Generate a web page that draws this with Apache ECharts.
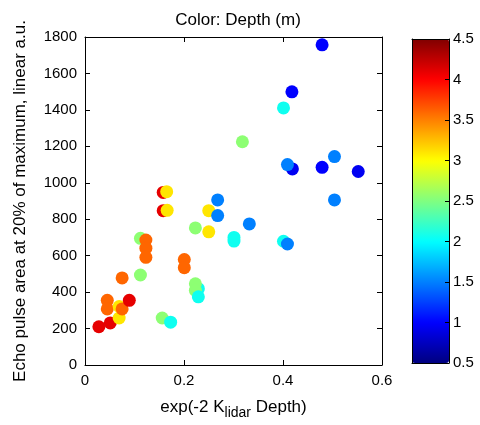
<!DOCTYPE html>
<html><head><meta charset="utf-8">
<script src="https://cdn.jsdelivr.net/npm/echarts@6/dist/echarts.min.js"></script>
<style>html,body{margin:0;padding:0;background:#fff}#c{width:480px;height:425px}</style>
</head><body><div id="c"></div>
<script>
// Data
const xVals = [0.028,0.051,0.069,0.045,0.045,0.069,0.075,0.0895,0.075,0.112,0.112,0.123,0.123,0.123,0.158,0.165,0.158,0.166,0.156,0.173,0.2006,0.2006,0.223,0.229,0.223,0.223,0.229,0.25,0.25,0.268,0.268,0.318,0.301,0.301,0.332,0.401,0.409,0.419,0.409,0.479,0.504,0.552,0.504,0.479,0.418,0.401];
const yVals = [210,231,258,355,308,321,308,355,478,494,695,686,641,591,947,951,847,849,258,235,579,534,752,419,446,410,374,847,731,906,820,1225,700,680,774,679,664,1076,1100,1085,1144,1062,906,1757,1499,1411];
const depths = [4.1,4.1,3.1,3.6,3.6,3.1,3.6,4.1,3.6,2.55,2.55,3.6,3.6,3.6,4.1,3.1,4.1,3.1,2.55,2.06,3.6,3.6,2.55,2.06,2.55,2.55,2.06,3.1,3.1,1.5,1.5,2.55,2.06,2.06,1.5,2.06,1.5,0.95,1.5,1.0,1.5,0.95,1.5,1.0,1.0,2.06];
const xTicks = [0,0.6,0.2];
const yTicks = [0,1800,200];
const cTicks = [0.5,4.5,0.5];
const jet = ['#000080','#0000ff','#0080ff','#00ffff','#80ff80','#ffff00','#ff8000','#ff0000','#800000'];

const pts = xVals.map((x,i)=>[x,yVals[i],depths[i]]);
const F = 'Liberation Sans, Arial, sans-serif';
const black = '#000';
const plain = v => String(v);
function ax(extra){
  return Object.assign({
    axisLine:{show:true,onZero:false,lineStyle:{color:black,width:1}},
    axisTick:{show:true,inside:true,length:5,lineStyle:{color:black}},
    splitLine:{show:false},
    axisLabel:{color:black,fontFamily:F,fontSize:15,formatter:plain},
    z:10
  },extra);
}
const chart = echarts.init(document.getElementById('c'),null,{renderer:'canvas'});
chart.setOption({
  animation:false,
  backgroundColor:'#fff',
  title:{text:'Color: Depth (m)',left:233,top:7,textAlign:'center',
    textStyle:{fontFamily:F,fontSize:17,fontWeight:'normal',color:black}},
  grid:[
    {left:85,top:37,width:297,height:335},
    {left:412,top:39,width:37,height:324}
  ],
  xAxis:[
    ax({gridIndex:0,type:'value',min:xTicks[0],max:xTicks[1],interval:xTicks[2],position:'bottom',
      axisLabel:{color:black,fontFamily:F,fontSize:15,margin:8,formatter:plain},
      name:'exp(-2 K{s|lidar} Depth)',nameLocation:'middle',nameGap:29,
      nameTextStyle:{fontFamily:F,fontSize:17,color:black,rich:{s:{fontFamily:F,fontSize:14,color:black,verticalAlign:'bottom',padding:[12,0,0,0]}}}}),
    ax({gridIndex:0,type:'value',min:xTicks[0],max:xTicks[1],interval:xTicks[2],position:'top',axisLabel:{show:false}}),
    ax({gridIndex:1,type:'value',min:0,max:1,position:'bottom',axisTick:{show:false},axisLabel:{show:false}}),
    ax({gridIndex:1,type:'value',min:0,max:1,position:'top',axisTick:{show:false},axisLabel:{show:false}})
  ],
  yAxis:[
    ax({gridIndex:0,type:'value',min:yTicks[0],max:yTicks[1],interval:yTicks[2],position:'left',
      axisLabel:{color:black,fontFamily:F,fontSize:15,margin:8,formatter:plain},
      name:'Echo pulse area at 20% of maximum, linear a.u.',nameLocation:'middle',nameGap:56,
      nameTextStyle:{fontFamily:F,fontSize:17,color:black}}),
    ax({gridIndex:0,type:'value',min:yTicks[0],max:yTicks[1],interval:yTicks[2],position:'right',axisLabel:{show:false}}),
    ax({gridIndex:1,type:'value',min:0,max:1,position:'left',axisTick:{show:false},axisLabel:{show:false}}),
    ax({gridIndex:1,type:'value',min:cTicks[0],max:cTicks[1],interval:cTicks[2],position:'right',
      axisTick:{show:true,inside:true,length:4,lineStyle:{color:black}},
      axisLabel:{color:black,fontFamily:F,fontSize:15,margin:4,formatter:plain}})
  ],
  visualMap:{
    type:'continuous',min:cTicks[0],max:cTicks[1],dimension:2,seriesIndex:0,
    show:true,calculable:false,left:412,top:39,itemWidth:37,itemHeight:324,padding:0,
    text:null,showLabel:false,inRange:{color:jet},z:2
  },
  series:[{
    type:'scatter',xAxisIndex:0,yAxisIndex:0,data:pts,symbolSize:13,
    itemStyle:{opacity:1}
  }]
});
</script></body></html>
